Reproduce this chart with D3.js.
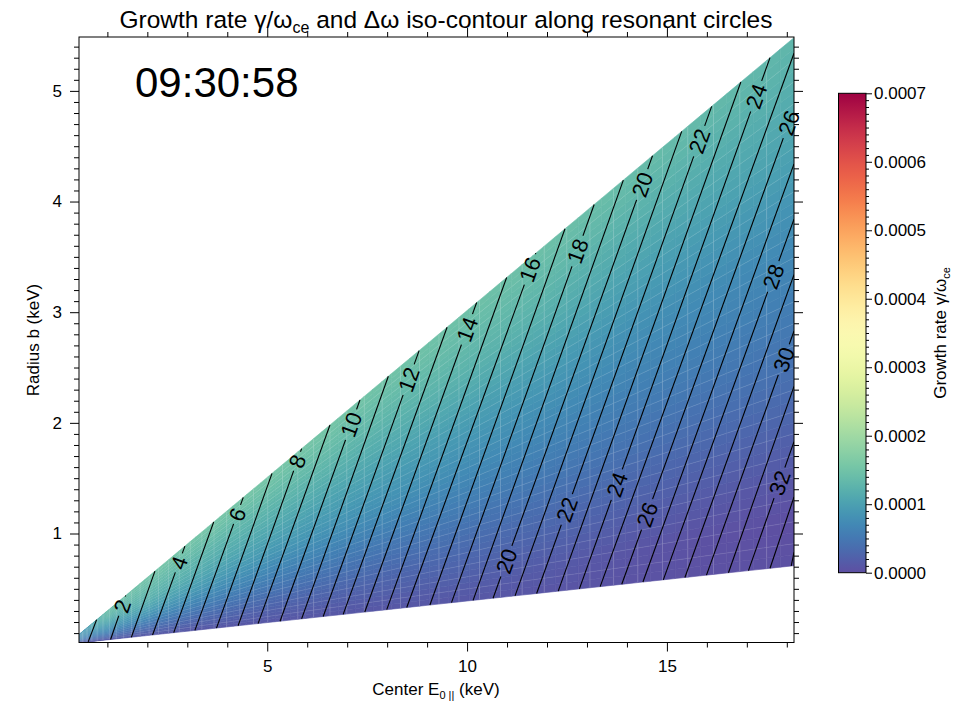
<!DOCTYPE html>
<html><head><meta charset="utf-8">
<script src="https://cdn.jsdelivr.net/npm/d3@7"></script>
<style>
body{margin:0;background:#fff}
svg text{font-family:"Liberation Sans",Arial,Helvetica,sans-serif;fill:#000}
</style>
</head><body>
<svg id="chart" width="957" height="704"></svg>
<script>
// ---------------- DATA ----------------
const titleText = "Growth rate";
const timeLabel = "09:30:58";
const xTickValues = [5, 10, 15];
const yTickValues = [1, 2, 3, 4, 5];
const cbTickValues = [0, 0.0001, 0.0002, 0.0003, 0.0004, 0.0005, 0.0006, 0.0007];
const eExtent = [0.29, 18.18];     // Center E0|| (keV)
const bExtent = [0.015, 5.487];    // Radius b (keV)
const ratioMin = 0.039;            // lower boundary b/E
const ratioMax = 0.3015;           // upper boundary b/E

// growth rate grid (units of 1e-5), rows = b/E ratio, columns = E
const growthUnit = 1e-5;
const growthE = [0.29, 1, 2, 4, 6, 8, 10, 12, 14, 16, 18.18];
const growthR = [0.039, 0.06, 0.08, 0.10, 0.13, 0.16, 0.20, 0.25, 0.3015];
const growthRate = [
  [0.5, 1.0, 1.0, 1.0, 1.0, 1.0, 1.0, 0.8, 0.5, 0.3, 0.3],
  [1.5, 2.5, 2.5, 2.2, 2.0, 2.0, 2.0, 1.5, 0.8, 0.3, 0.0],
  [2.5, 4.0, 4.0, 3.5, 3.2, 3.0, 3.0, 2.5, 1.8, 1.2, 0.8],
  [3.5, 5.5, 5.5, 5.0, 4.5, 4.2, 4.0, 3.5, 2.8, 2.3, 2.0],
  [5.0, 7.5, 8.0, 7.0, 6.5, 6.0, 5.8, 5.2, 4.5, 4.0, 3.8],
  [6.0, 9.0, 10.0, 9.0, 8.5, 8.0, 7.5, 6.8, 6.0, 5.6, 5.3],
  [7.0, 11.0, 12.0, 11.0, 10.5, 10.0, 9.5, 9.0, 8.0, 7.5, 7.2],
  [7.5, 13.0, 13.5, 13.0, 13.0, 12.5, 12.5, 12.0, 11.0, 10.5, 10.5],
  [8.0, 14.0, 15.0, 15.5, 15.5, 15.0, 14.7, 14.5, 14.0, 13.5, 13.0]
];

// delta-omega iso-contours: crossing of lower boundary (E), upper boundary (E) or right edge (b)
const contourLevels = [1,2,3,4,5,6,7,8,9,10,11,12,13,14,15,16,17,18,19,20,21,22,23,24,25,26,27,28,29,30,31,32,33,34];
const contourLowE = [0.52,1.08,1.60,2.13,2.66,3.19,3.73,4.27,4.77,5.32,5.86,6.40,6.90,7.44,7.99,8.49,9.07,
                     9.61,10.15,10.65,11.20,11.74,12.28,12.81,13.33,13.87,14.40,14.91,15.45,15.99,16.54,17.04,17.58,18.11];
const contourTopE = [0.73,1.46,2.19,2.94,3.66,4.40,5.12,5.86,6.57,7.32,8.03,8.80,9.50,10.24,10.99,11.72,12.45,
                     13.18,13.91,14.64,15.37,16.12,16.85,17.58];
const contourRightB = [5.34,4.84,4.34,3.84,3.34,2.83,2.33,1.83,1.33,0.83];

// contour labels: level and radius b of label centre
const labelLevels = [2,4,6,8,10,12,14,16,18,20,22,24,26,28,30,32,20,22,24,26];
const labelB = [0.344,0.735,1.172,1.653,1.984,2.391,2.845,3.386,3.553,4.154,4.546,4.952,4.711,3.323,2.571,1.458,0.750,1.217,1.442,1.172];

// ---------------- LAYOUT ----------------
const plot = {left: 79, right: 794, top: 37, bottom: 642.5};
const cb = {left: 838.5, right: 866, top: 93.3, bottom: 572.7};

const svg = d3.select("#chart");
const x = d3.scaleLinear().domain(eExtent).range([plot.left, plot.right]);
const y = d3.scaleLinear().domain(bExtent).range([plot.bottom, plot.top]);
const color = d3.scaleSequential(t => d3.interpolateSpectral(1 - t)).domain([0, 0.0007]);
const cy = d3.scaleLinear().domain([0, 0.0007]).range([cb.bottom, cb.top]);

const defs = svg.append("defs");
defs.append("clipPath").attr("id", "plotClip").append("rect")
  .attr("x", plot.left).attr("y", plot.top)
  .attr("width", plot.right - plot.left).attr("height", plot.bottom - plot.top);

function growthAt(E, r) {
  const i = Math.max(0, Math.min(growthE.length - 2, d3.bisectRight(growthE, E) - 1));
  const j = Math.max(0, Math.min(growthR.length - 2, d3.bisectRight(growthR, r) - 1));
  const tx = Math.max(0, Math.min(1, (E - growthE[i]) / (growthE[i + 1] - growthE[i])));
  const ty = Math.max(0, Math.min(1, (r - growthR[j]) / (growthR[j + 1] - growthR[j])));
  const g = growthRate;
  return growthUnit * ((1 - tx) * (1 - ty) * g[j][i] + tx * (1 - ty) * g[j][i + 1] +
         (1 - tx) * ty * g[j + 1][i] + tx * ty * g[j + 1][i + 1]);
}

// ---------------- FIELD (mesh of cells) ----------------
const field = svg.append("g").attr("clip-path", "url(#plotClip)");
const sqrtScale = d3.scaleLinear().range([Math.sqrt(eExtent[0]), Math.sqrt(eExtent[1])]);
function meshCols(n) { return d3.range(n + 1).map(k => Math.pow(sqrtScale(k / n), 2)); }
function meshRows(n) { return d3.range(n + 1).map(k => ratioMin + (ratioMax - ratioMin) * k / n); }
const fillCols = meshCols(92), fillRows = meshRows(48);
const cells = [];
for (let i = 0; i < fillCols.length - 1; i++) {
  for (let j = 0; j < fillRows.length - 1; j++) {
    const E0 = fillCols[i], E1 = fillCols[i + 1], r0 = fillRows[j], r1 = fillRows[j + 1];
    cells.push({
      pts: [[E0, r0 * E0], [E1, r0 * E1], [E1, r1 * E1], [E0, r1 * E0]],
      v: growthAt((E0 + E1) / 2, (r0 + r1) / 2)
    });
  }
}
const poly = d3.line().x(d => x(d[0])).y(d => y(d[1]));
field.selectAll("path.cell").data(cells).join("path")
  .attr("class", "cell")
  .attr("d", d => poly(d.pts) + "Z")
  .attr("fill", d => color(d.v))
  .attr("stroke", d => color(d.v))
  .attr("stroke-width", 0.6);

// faint mesh seams
const seamCols = meshCols(46).slice(1, -1), seamRows = meshRows(24).slice(1, -1);
field.append("g").selectAll("line").data(seamCols).join("line")
  .attr("x1", d => x(d)).attr("x2", d => x(d))
  .attr("y1", d => y(ratioMin * d)).attr("y2", d => y(ratioMax * d))
  .attr("stroke", "#fff").attr("stroke-opacity", 0.3).attr("stroke-width", 0.6);
field.append("g").selectAll("line").data(seamRows).join("line")
  .attr("x1", x(eExtent[0])).attr("x2", x(eExtent[1]))
  .attr("y1", d => y(d * eExtent[0])).attr("y2", d => y(d * eExtent[1]))
  .attr("stroke", "#fff").attr("stroke-opacity", 0.2).attr("stroke-width", 0.6);

// ---------------- CONTOURS ----------------
const segs = contourLevels.map((L, k) => {
  const p0 = [contourLowE[k], ratioMin * contourLowE[k]];
  const p1 = k < contourTopE.length
    ? [contourTopE[k], ratioMax * contourTopE[k]]
    : [eExtent[1], contourRightB[k - contourTopE.length]];
  return {L, p0, p1};
});
const labelFont = 22;
const labels = labelLevels.map((L, k) => {
  const s = segs.find(d => d.L === L);
  const b = labelB[k];
  const t = (b - s.p0[1]) / (s.p1[1] - s.p0[1]);
  const E = s.p0[0] + t * (s.p1[0] - s.p0[0]);
  const ang = Math.atan2(y(s.p1[1]) - y(s.p0[1]), x(s.p1[0]) - x(s.p0[0])) * 180 / Math.PI;
  return {L, px: x(E), py: y(b), ang};
});

const mask = defs.append("mask").attr("id", "labelMask")
  .attr("maskUnits", "userSpaceOnUse").attr("x", 0).attr("y", 0).attr("width", 957).attr("height", 704);
mask.append("rect").attr("width", 957).attr("height", 704).attr("fill", "#fff");
mask.selectAll("rect.gap").data(labels).join("rect").attr("class", "gap")
  .attr("x", d => -(String(d.L).length * 0.556 * labelFont + 8) / 2)
  .attr("width", d => String(d.L).length * 0.556 * labelFont + 8)
  .attr("y", -labelFont * 0.45).attr("height", labelFont * 0.9)
  .attr("transform", d => `translate(${d.px},${d.py}) rotate(${d.ang})`)
  .attr("fill", "#000");

const contourG = svg.append("g").attr("clip-path", "url(#plotClip)");
contourG.append("g").attr("mask", "url(#labelMask)")
  .selectAll("path").data(segs).join("path")
  .attr("d", d => poly([d.p0, d.p1]))
  .attr("fill", "none").attr("stroke", "#000").attr("stroke-width", 1.1);
svg.append("g").selectAll("text").data(labels).join("text")
  .attr("transform", d => `translate(${d.px},${d.py}) rotate(${d.ang})`)
  .attr("text-anchor", "middle").attr("dy", "0.36em")
  .style("font-size", labelFont + "px")
  .text(d => d.L);

// ---------------- AXES ----------------
function styleAxis(g) {
  g.select(".domain").remove();
  g.selectAll(".tick line").attr("stroke", "#000").attr("stroke-width", 1);
  g.selectAll(".tick text").style("font-size", "17px").attr("fill", "#000");
}
const minorX = d3.range(1, 19).filter(v => !xTickValues.includes(v));
const minorY = d3.range(1, 55).map(v => v / 10).filter(v => !yTickValues.includes(v));

svg.append("g").attr("transform", `translate(0,${plot.bottom})`)
  .call(d3.axisBottom(x).tickValues(xTickValues).tickSize(9).tickPadding(8).tickFormat(d3.format("d"))).call(styleAxis);
svg.append("g").attr("transform", `translate(0,${plot.bottom})`)
  .call(d3.axisBottom(x).tickValues(minorX).tickSize(5).tickFormat("")).call(styleAxis);
svg.append("g").attr("transform", `translate(0,${plot.top})`)
  .call(d3.axisTop(x).tickValues(xTickValues).tickSize(9).tickFormat("")).call(styleAxis);
svg.append("g").attr("transform", `translate(0,${plot.top})`)
  .call(d3.axisTop(x).tickValues(minorX).tickSize(5).tickFormat("")).call(styleAxis);
svg.append("g").attr("transform", `translate(${plot.left},0)`)
  .call(d3.axisLeft(y).tickValues(yTickValues).tickSize(9).tickPadding(8).tickFormat(d3.format("d"))).call(styleAxis);
svg.append("g").attr("transform", `translate(${plot.left},0)`)
  .call(d3.axisLeft(y).tickValues(minorY).tickSize(5).tickFormat("")).call(styleAxis);
svg.append("g").attr("transform", `translate(${plot.right},0)`)
  .call(d3.axisRight(y).tickValues(yTickValues).tickSize(9).tickFormat("")).call(styleAxis);
svg.append("g").attr("transform", `translate(${plot.right},0)`)
  .call(d3.axisRight(y).tickValues(minorY).tickSize(5).tickFormat("")).call(styleAxis);

svg.append("rect").attr("x", plot.left).attr("y", plot.top)
  .attr("width", plot.right - plot.left).attr("height", plot.bottom - plot.top)
  .attr("fill", "none").attr("stroke", "#000").attr("stroke-width", 1);

// titles
const title = svg.append("text").attr("x", 446).attr("y", 28).attr("text-anchor", "middle").style("font-size", "24.5px");
title.append("tspan").text(titleText + " γ/ω");
title.append("tspan").text("ce").style("font-size", "16px").attr("dy", 5);
title.append("tspan").text(" and Δω iso-contour along resonant circles").attr("dy", -5);

svg.append("text").attr("x", 135).attr("y", 97).style("font-size", "42px").text(timeLabel);

const xl = svg.append("text").attr("x", 436).attr("y", 695).attr("text-anchor", "middle").style("font-size", "17px");
xl.append("tspan").text("Center E");
xl.append("tspan").text("0 ||").style("font-size", "11px").attr("dy", 4);
xl.append("tspan").text(" (keV)").attr("dy", -4);

svg.append("text").attr("transform", `translate(39,340) rotate(-90)`).attr("text-anchor", "middle")
  .style("font-size", "17px").text("Radius b (keV)");

// ---------------- COLORBAR ----------------
const grad = defs.append("linearGradient").attr("id", "cbGrad")
  .attr("x1", 0).attr("y1", 1).attr("x2", 0).attr("y2", 0);
grad.selectAll("stop").data(d3.range(0, 1.0001, 0.025)).join("stop")
  .attr("offset", d => d).attr("stop-color", d => color(d * 0.0007));
svg.append("rect").attr("x", cb.left).attr("y", cb.top)
  .attr("width", cb.right - cb.left).attr("height", cb.bottom - cb.top)
  .attr("fill", "url(#cbGrad)").attr("stroke", "#000").attr("stroke-width", 1);
const cbMinor = d3.range(0, 71).map(v => v / 100000).filter(v => v % 0.0001 > 1e-9 && 0.0001 - (v % 0.0001) > 1e-9);
svg.append("g").attr("transform", `translate(${cb.right},0)`)
  .call(d3.axisRight(cy).tickValues(cbTickValues).tickSize(6).tickPadding(2).tickFormat(d3.format(".4f")))
  .call(g => { g.select(".domain").remove(); g.selectAll(".tick line").attr("stroke", "#000");
               g.selectAll(".tick text").style("font-size", "17px"); });
svg.append("g").attr("transform", `translate(${cb.right},0)`)
  .call(d3.axisRight(cy).tickValues(cbMinor).tickSize(3).tickFormat(""))
  .call(g => { g.select(".domain").remove(); g.selectAll(".tick line").attr("stroke", "#000"); });
const cbt = svg.append("text").attr("transform", `translate(946,333) rotate(-90)`).attr("text-anchor", "middle")
  .style("font-size", "17px");
cbt.append("tspan").text("Growth rate γ/ω");
cbt.append("tspan").text("ce").style("font-size", "11px").attr("dy", 4);
</script>
</body></html>
